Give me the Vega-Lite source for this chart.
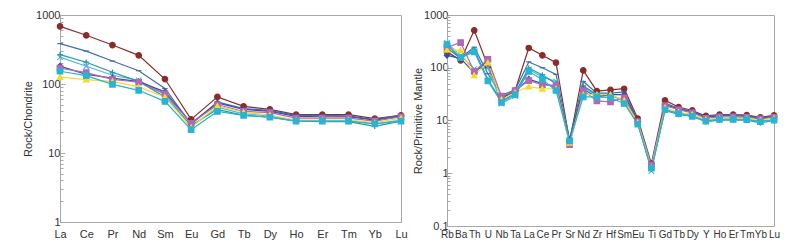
{
 "$schema": "https://vega.github.io/schema/vega-lite/v6.json",
 "background": "white",
 "padding": {"left": 22, "top": 8, "right": 5, "bottom": 5},
 "bounds": "flush",
 "spacing": 46,
 "config": {
  "view": {"stroke": "#a8a8a8", "strokeWidth": 1},
  "axis": {"labelFont": "Liberation Sans", "labelFontSize": 11, "labelColor": "#333333", "titleFont": "Liberation Sans", "titleFontSize": 11, "titleFontWeight": "normal", "titleColor": "#333333", "domainColor": "#a8a8a8", "tickColor": "#a8a8a8", "grid": false}
 },
 "datasets": {
  "a": [
   {"s":"S1","e":"La","v":685},{"s":"S1","e":"Ce","v":508},{"s":"S1","e":"Pr","v":367},{"s":"S1","e":"Nd","v":260},{"s":"S1","e":"Sm","v":118},{"s":"S1","e":"Eu","v":30.7},{"s":"S1","e":"Gd","v":65},{"s":"S1","e":"Tb","v":47.5},{"s":"S1","e":"Dy","v":43},{"s":"S1","e":"Ho","v":36},{"s":"S1","e":"Er","v":36},{"s":"S1","e":"Tm","v":36},{"s":"S1","e":"Yb","v":31.5},{"s":"S1","e":"Lu","v":35},
   {"s":"S2","e":"La","v":385},{"s":"S2","e":"Ce","v":300},{"s":"S2","e":"Pr","v":215},{"s":"S2","e":"Nd","v":156},{"s":"S2","e":"Sm","v":86},{"s":"S2","e":"Eu","v":26},{"s":"S2","e":"Gd","v":55},{"s":"S2","e":"Tb","v":44},{"s":"S2","e":"Dy","v":41.5},{"s":"S2","e":"Ho","v":35},{"s":"S2","e":"Er","v":35},{"s":"S2","e":"Tm","v":34.5},{"s":"S2","e":"Yb","v":30.5},{"s":"S2","e":"Lu","v":35.5},
   {"s":"S3","e":"La","v":245},{"s":"S3","e":"Ce","v":181},{"s":"S3","e":"Pr","v":134},{"s":"S3","e":"Nd","v":113},{"s":"S3","e":"Sm","v":71},{"s":"S3","e":"Eu","v":24},{"s":"S3","e":"Gd","v":46},{"s":"S3","e":"Tb","v":37},{"s":"S3","e":"Dy","v":34.5},{"s":"S3","e":"Ho","v":29.5},{"s":"S3","e":"Er","v":29.5},{"s":"S3","e":"Tm","v":29.5},{"s":"S3","e":"Yb","v":26.5},{"s":"S3","e":"Lu","v":30},
   {"s":"S4","e":"La","v":267},{"s":"S4","e":"Ce","v":207},{"s":"S4","e":"Pr","v":148},{"s":"S4","e":"Nd","v":109},{"s":"S4","e":"Sm","v":65},{"s":"S4","e":"Eu","v":25},{"s":"S4","e":"Gd","v":43},{"s":"S4","e":"Tb","v":35},{"s":"S4","e":"Dy","v":33},{"s":"S4","e":"Ho","v":29},{"s":"S4","e":"Er","v":28.5},{"s":"S4","e":"Tm","v":28.5},{"s":"S4","e":"Yb","v":24.4},{"s":"S4","e":"Lu","v":29},
   {"s":"S5","e":"La","v":182},{"s":"S5","e":"Ce","v":138},{"s":"S5","e":"Pr","v":122},{"s":"S5","e":"Nd","v":108},{"s":"S5","e":"Sm","v":77},{"s":"S5","e":"Eu","v":27},{"s":"S5","e":"Gd","v":53},{"s":"S5","e":"Tb","v":43},{"s":"S5","e":"Dy","v":40},{"s":"S5","e":"Ho","v":34},{"s":"S5","e":"Er","v":33.5},{"s":"S5","e":"Tm","v":33.5},{"s":"S5","e":"Yb","v":30},{"s":"S5","e":"Lu","v":34},
   {"s":"S6","e":"La","v":170},{"s":"S6","e":"Ce","v":146},{"s":"S6","e":"Pr","v":117},{"s":"S6","e":"Nd","v":106},{"s":"S6","e":"Sm","v":72},{"s":"S6","e":"Eu","v":27},{"s":"S6","e":"Gd","v":50},{"s":"S6","e":"Tb","v":40},{"s":"S6","e":"Dy","v":38.5},{"s":"S6","e":"Ho","v":32},{"s":"S6","e":"Er","v":32},{"s":"S6","e":"Tm","v":32},{"s":"S6","e":"Yb","v":29},{"s":"S6","e":"Lu","v":33.5},
   {"s":"S7","e":"La","v":126},{"s":"S7","e":"Ce","v":116},{"s":"S7","e":"Pr","v":109},{"s":"S7","e":"Nd","v":91},{"s":"S7","e":"Sm","v":65},{"s":"S7","e":"Eu","v":23.5},{"s":"S7","e":"Gd","v":48},{"s":"S7","e":"Tb","v":39},{"s":"S7","e":"Dy","v":35.5},{"s":"S7","e":"Ho","v":30},{"s":"S7","e":"Er","v":30},{"s":"S7","e":"Tm","v":30},{"s":"S7","e":"Yb","v":27.5},{"s":"S7","e":"Lu","v":32},
   {"s":"S8","e":"La","v":153},{"s":"S8","e":"Ce","v":132},{"s":"S8","e":"Pr","v":99},{"s":"S8","e":"Nd","v":81},{"s":"S8","e":"Sm","v":56},{"s":"S8","e":"Eu","v":21.8},{"s":"S8","e":"Gd","v":40},{"s":"S8","e":"Tb","v":35},{"s":"S8","e":"Dy","v":33},{"s":"S8","e":"Ho","v":29},{"s":"S8","e":"Er","v":29},{"s":"S8","e":"Tm","v":29},{"s":"S8","e":"Yb","v":26.5},{"s":"S8","e":"Lu","v":29}
  ],
  "b": [
   {"s":"S1","e":"Rb","v":200},{"s":"S1","e":"Ba","v":138},{"s":"S1","e":"Th","v":513},{"s":"S1","e":"U","v":108},{"s":"S1","e":"Nb","v":28},{"s":"S1","e":"Ta","v":37},{"s":"S1","e":"La","v":237},{"s":"S1","e":"Ce","v":172},{"s":"S1","e":"Pr","v":125},{"s":"S1","e":"Sr","v":4.0},{"s":"S1","e":"Nd","v":89},{"s":"S1","e":"Zr","v":36},{"s":"S1","e":"Hf","v":38},{"s":"S1","e":"Sm","v":40},{"s":"S1","e":"Eu","v":10.9},{"s":"S1","e":"Ti","v":1.52},{"s":"S1","e":"Gd","v":24},{"s":"S1","e":"Tb","v":18},{"s":"S1","e":"Dy","v":15.5},{"s":"S1","e":"Y","v":12.2},{"s":"S1","e":"Ho","v":13},{"s":"S1","e":"Er","v":13},{"s":"S1","e":"Tm","v":12.7},{"s":"S1","e":"Yb","v":11.5},{"s":"S1","e":"Lu","v":12.5},
   {"s":"S2","e":"Rb","v":260},{"s":"S2","e":"Ba","v":155},{"s":"S2","e":"Th","v":245},{"s":"S2","e":"U","v":77},{"s":"S2","e":"Nb","v":30},{"s":"S2","e":"Ta","v":38},{"s":"S2","e":"La","v":129},{"s":"S2","e":"Ce","v":100},{"s":"S2","e":"Pr","v":75},{"s":"S2","e":"Sr","v":4.4},{"s":"S2","e":"Nd","v":55},{"s":"S2","e":"Zr","v":33},{"s":"S2","e":"Hf","v":33},{"s":"S2","e":"Sm","v":35},{"s":"S2","e":"Eu","v":10},{"s":"S2","e":"Ti","v":1.4},{"s":"S2","e":"Gd","v":21.5},{"s":"S2","e":"Tb","v":17},{"s":"S2","e":"Dy","v":15},{"s":"S2","e":"Y","v":11.8},{"s":"S2","e":"Ho","v":12.7},{"s":"S2","e":"Er","v":12.7},{"s":"S2","e":"Tm","v":12.5},{"s":"S2","e":"Yb","v":11.2},{"s":"S2","e":"Lu","v":12},
   {"s":"S3","e":"Rb","v":295},{"s":"S3","e":"Ba","v":170},{"s":"S3","e":"Th","v":95},{"s":"S3","e":"U","v":100},{"s":"S3","e":"Nb","v":21},{"s":"S3","e":"Ta","v":29},{"s":"S3","e":"La","v":93},{"s":"S3","e":"Ce","v":67},{"s":"S3","e":"Pr","v":55},{"s":"S3","e":"Sr","v":4.2},{"s":"S3","e":"Nd","v":42},{"s":"S3","e":"Zr","v":30},{"s":"S3","e":"Hf","v":29},{"s":"S3","e":"Sm","v":25},{"s":"S3","e":"Eu","v":9},{"s":"S3","e":"Ti","v":1.1},{"s":"S3","e":"Gd","v":16},{"s":"S3","e":"Tb","v":14},{"s":"S3","e":"Dy","v":12.5},{"s":"S3","e":"Y","v":10},{"s":"S3","e":"Ho","v":10.7},{"s":"S3","e":"Er","v":10.7},{"s":"S3","e":"Tm","v":10.6},{"s":"S3","e":"Yb","v":9.7},{"s":"S3","e":"Lu","v":10.4},
   {"s":"S4","e":"Rb","v":240},{"s":"S4","e":"Ba","v":150},{"s":"S4","e":"Th","v":220},{"s":"S4","e":"U","v":60},{"s":"S4","e":"Nb","v":23},{"s":"S4","e":"Ta","v":33},{"s":"S4","e":"La","v":99},{"s":"S4","e":"Ce","v":73},{"s":"S4","e":"Pr","v":50},{"s":"S4","e":"Sr","v":4.0},{"s":"S4","e":"Nd","v":45},{"s":"S4","e":"Zr","v":31},{"s":"S4","e":"Hf","v":31},{"s":"S4","e":"Sm","v":23},{"s":"S4","e":"Eu","v":8.8},{"s":"S4","e":"Ti","v":1.2},{"s":"S4","e":"Gd","v":15.5},{"s":"S4","e":"Tb","v":13},{"s":"S4","e":"Dy","v":12},{"s":"S4","e":"Y","v":9.5},{"s":"S4","e":"Ho","v":10.2},{"s":"S4","e":"Er","v":10.2},{"s":"S4","e":"Tm","v":10.2},{"s":"S4","e":"Yb","v":9.0},{"s":"S4","e":"Lu","v":10},
   {"s":"S5","e":"Rb","v":172},{"s":"S5","e":"Ba","v":150},{"s":"S5","e":"Th","v":80},{"s":"S5","e":"U","v":140},{"s":"S5","e":"Nb","v":26},{"s":"S5","e":"Ta","v":36},{"s":"S5","e":"La","v":61},{"s":"S5","e":"Ce","v":50},{"s":"S5","e":"Pr","v":44},{"s":"S5","e":"Sr","v":4.3},{"s":"S5","e":"Nd","v":39},{"s":"S5","e":"Zr","v":28},{"s":"S5","e":"Hf","v":31},{"s":"S5","e":"Sm","v":31},{"s":"S5","e":"Eu","v":9.7},{"s":"S5","e":"Ti","v":1.35},{"s":"S5","e":"Gd","v":20},{"s":"S5","e":"Tb","v":16.5},{"s":"S5","e":"Dy","v":14.5},{"s":"S5","e":"Y","v":11.5},{"s":"S5","e":"Ho","v":12.3},{"s":"S5","e":"Er","v":12.3},{"s":"S5","e":"Tm","v":12},{"s":"S5","e":"Yb","v":11},{"s":"S5","e":"Lu","v":11.8},
   {"s":"S6","e":"Rb","v":245},{"s":"S6","e":"Ba","v":300},{"s":"S6","e":"Th","v":85},{"s":"S6","e":"U","v":145},{"s":"S6","e":"Nb","v":29},{"s":"S6","e":"Ta","v":37},{"s":"S6","e":"La","v":57},{"s":"S6","e":"Ce","v":48},{"s":"S6","e":"Pr","v":46},{"s":"S6","e":"Sr","v":3.5},{"s":"S6","e":"Nd","v":37},{"s":"S6","e":"Zr","v":23.5},{"s":"S6","e":"Hf","v":22.5},{"s":"S6","e":"Sm","v":27},{"s":"S6","e":"Eu","v":9.5},{"s":"S6","e":"Ti","v":1.45},{"s":"S6","e":"Gd","v":19},{"s":"S6","e":"Tb","v":16},{"s":"S6","e":"Dy","v":14},{"s":"S6","e":"Y","v":11},{"s":"S6","e":"Ho","v":11.7},{"s":"S6","e":"Er","v":11.7},{"s":"S6","e":"Tm","v":11.5},{"s":"S6","e":"Yb","v":10.7},{"s":"S6","e":"Lu","v":11.5},
   {"s":"S7","e":"Rb","v":220},{"s":"S7","e":"Ba","v":214},{"s":"S7","e":"Th","v":72},{"s":"S7","e":"U","v":125},{"s":"S7","e":"Nb","v":25},{"s":"S7","e":"Ta","v":34},{"s":"S7","e":"La","v":44},{"s":"S7","e":"Ce","v":40},{"s":"S7","e":"Pr","v":40},{"s":"S7","e":"Sr","v":3.8},{"s":"S7","e":"Nd","v":31},{"s":"S7","e":"Zr","v":31},{"s":"S7","e":"Hf","v":31},{"s":"S7","e":"Sm","v":24},{"s":"S7","e":"Eu","v":9.2},{"s":"S7","e":"Ti","v":1.3},{"s":"S7","e":"Gd","v":17.5},{"s":"S7","e":"Tb","v":14.5},{"s":"S7","e":"Dy","v":13},{"s":"S7","e":"Y","v":10.5},{"s":"S7","e":"Ho","v":11},{"s":"S7","e":"Er","v":11},{"s":"S7","e":"Tm","v":11},{"s":"S7","e":"Yb","v":10.2},{"s":"S7","e":"Lu","v":11},
   {"s":"S8","e":"Rb","v":275},{"s":"S8","e":"Ba","v":155},{"s":"S8","e":"Th","v":200},{"s":"S8","e":"U","v":56},{"s":"S8","e":"Nb","v":22},{"s":"S8","e":"Ta","v":31},{"s":"S8","e":"La","v":85},{"s":"S8","e":"Ce","v":60},{"s":"S8","e":"Pr","v":37},{"s":"S8","e":"Sr","v":4.1},{"s":"S8","e":"Nd","v":28},{"s":"S8","e":"Zr","v":28},{"s":"S8","e":"Hf","v":27},{"s":"S8","e":"Sm","v":21},{"s":"S8","e":"Eu","v":8.5},{"s":"S8","e":"Ti","v":1.25},{"s":"S8","e":"Gd","v":16},{"s":"S8","e":"Tb","v":13.5},{"s":"S8","e":"Dy","v":12},{"s":"S8","e":"Y","v":9.7},{"s":"S8","e":"Ho","v":10.5},{"s":"S8","e":"Er","v":10.5},{"s":"S8","e":"Tm","v":10.4},{"s":"S8","e":"Yb","v":9.5},{"s":"S8","e":"Lu","v":10.2}
  ],
  "la": [{"t":"(a)"}],
  "lb": [{"t":"(b)"}]
 },
 "hconcat": [
  {
   "width": 341, "height": 207,
   "data": {"name": "a"},
   "encoding": {
    "x": {"field": "e", "type": "nominal", "sort": ["La","Ce","Pr","Nd","Sm","Eu","Gd","Tb","Dy","Ho","Er","Tm","Yb","Lu"], "scale": {"type": "point", "padding": 0, "domain": ["La","Ce","Pr","Nd","Sm","Eu","Gd","Tb","Dy","Ho","Er","Tm","Yb","Lu"]}, "axis": {"title": null, "labelAngle": 0, "ticks": false, "labelPadding": 6}},
    "y": {"field": "v", "type": "quantitative", "scale": {"type": "log", "domain": [1, 1000]}, "axis": {"title": "Rock/Chondrite", "values": [1,2,3,4,5,6,7,8,9,10,20,30,40,50,60,70,80,90,100,200,300,400,500,600,700,800,900,1000], "labelExpr": "abs(log(datum.value)/LN10 - round(log(datum.value)/LN10)) < 0.001 ? datum.label : ''", "format": "~g", "tickSize": {"condition": {"test": "abs(log(datum.value)/LN10 - round(log(datum.value)/LN10)) < 0.001", "value": -5}, "value": -3}, "labelPadding": 5, "titlePadding": 2}}
   },
   "layer": [
    {"mark": {"type": "line", "strokeWidth": 1.2}, "encoding": {"color": {"field": "s", "type": "nominal", "scale": {"domain": ["S1","S2","S3","S4","S5","S6","S7","S8"], "range": ["#8b2c2c","#3f6fae","#5ab4e0","#1f9aa8","#3c4ea0","#b06ab4","#f2dc2a","#28b4d2"]}, "legend": null}}},
    {"mark": {"type": "point", "filled": true, "size": 30, "strokeWidth": 1.2, "opacity": 1}, "encoding": {
      "fill": {"field": "s", "type": "nominal", "scale": {"domain": ["S1","S2","S3","S4","S5","S6","S7","S8"], "range": ["#8b2c2c","#3f6fae","#5ab4e0","#1f9aa8","#3c4ea0","#b06ab4","#f2dc2a","#28b4d2"]}, "legend": null},
      "stroke": {"field": "s", "type": "nominal", "scale": {"domain": ["S1","S2","S3","S4","S5","S6","S7","S8"], "range": ["#8b2c2c","#3f6fae","#5ab4e0","#1f9aa8","#3c4ea0","#b06ab4","#f2dc2a","#28b4d2"]}, "legend": null},
      "shape": {"field": "s", "type": "nominal", "scale": {"domain": ["S1","S2","S3","S4","S5","S6","S7","S8"], "range": ["circle","M-1,0L1,0","M-1,-1L1,1M-1,1L1,-1","M-1,0L1,0M0,-1L0,1","diamond","square","triangle-up","square"]}, "legend": null}
    }},
    {"data": {"name": "la"}, "mark": {"type": "text", "font": "Liberation Serif", "fontSize": 14, "align": "right", "baseline": "middle", "dx": -6, "color": "#222222"}, "encoding": {"x": {"datum": "Lu"}, "y": {"datum": 660}, "text": {"field": "t"}}}
   ]
  },
  {
   "width": 327, "height": 211,
   "data": {"name": "b"},
   "encoding": {
    "x": {"field": "e", "type": "nominal", "sort": ["Rb","Ba","Th","U","Nb","Ta","La","Ce","Pr","Sr","Nd","Zr","Hf","Sm","Eu","Ti","Gd","Tb","Dy","Y","Ho","Er","Tm","Yb","Lu"], "scale": {"type": "point", "padding": 0, "domain": ["Rb","Ba","Th","U","Nb","Ta","La","Ce","Pr","Sr","Nd","Zr","Hf","Sm","Eu","Ti","Gd","Tb","Dy","Y","Ho","Er","Tm","Yb","Lu"]}, "axis": {"title": null, "labelAngle": 0, "ticks": false, "labelPadding": 3, "labelFontSize": 10, "labelOverlap": false}},
    "y": {"field": "v", "type": "quantitative", "scale": {"type": "log", "domain": [0.1, 1000]}, "axis": {"title": "Rock/Primitive Mantle", "values": [0.1,0.2,0.3,0.4,0.5,0.6,0.7,0.8,0.9,1,2,3,4,5,6,7,8,9,10,20,30,40,50,60,70,80,90,100,200,300,400,500,600,700,800,900,1000], "labelExpr": "abs(log(datum.value)/LN10 - round(log(datum.value)/LN10)) < 0.001 ? datum.label : ''", "format": "~g", "tickSize": {"condition": {"test": "abs(log(datum.value)/LN10 - round(log(datum.value)/LN10)) < 0.001", "value": -5}, "value": -3}, "labelPadding": 4, "titlePadding": 0}}
   },
   "layer": [
    {"mark": {"type": "line", "strokeWidth": 1.2}, "encoding": {"color": {"field": "s", "type": "nominal", "scale": {"domain": ["S1","S2","S3","S4","S5","S6","S7","S8"], "range": ["#8b2c2c","#3f6fae","#5ab4e0","#1f9aa8","#3c4ea0","#b06ab4","#f2dc2a","#28b4d2"]}, "legend": null}}},
    {"mark": {"type": "point", "filled": true, "size": 30, "strokeWidth": 1.2, "opacity": 1}, "encoding": {
      "fill": {"field": "s", "type": "nominal", "scale": {"domain": ["S1","S2","S3","S4","S5","S6","S7","S8"], "range": ["#8b2c2c","#3f6fae","#5ab4e0","#1f9aa8","#3c4ea0","#b06ab4","#f2dc2a","#28b4d2"]}, "legend": null},
      "stroke": {"field": "s", "type": "nominal", "scale": {"domain": ["S1","S2","S3","S4","S5","S6","S7","S8"], "range": ["#8b2c2c","#3f6fae","#5ab4e0","#1f9aa8","#3c4ea0","#b06ab4","#f2dc2a","#28b4d2"]}, "legend": null},
      "shape": {"field": "s", "type": "nominal", "scale": {"domain": ["S1","S2","S3","S4","S5","S6","S7","S8"], "range": ["circle","M-1,0L1,0","M-1,-1L1,1M-1,1L1,-1","M-1,0L1,0M0,-1L0,1","diamond","square","triangle-up","square"]}, "legend": null}
    }},
    {"data": {"name": "lb"}, "mark": {"type": "text", "font": "Liberation Serif", "fontSize": 14, "align": "right", "baseline": "middle", "dx": -6, "color": "#222222"}, "encoding": {"x": {"datum": "Lu"}, "y": {"datum": 640}, "text": {"field": "t"}}}
   ]
  }
 ]
}
